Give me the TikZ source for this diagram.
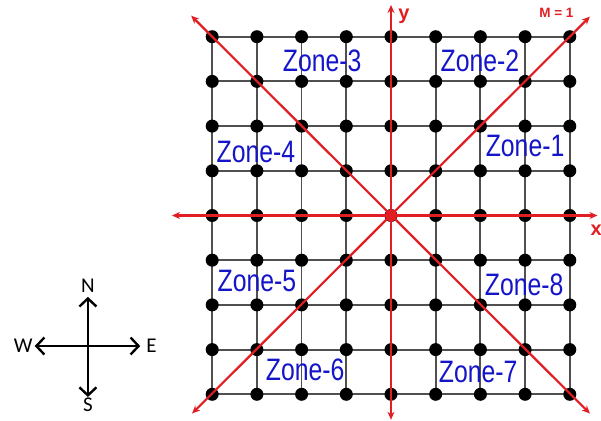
\documentclass[tikz,border=0pt]{standalone}
\usepackage{fontspec}
\newfontfamily\zonefont{Liberation Sans}
\newfontfamily\compassfont{Carlito}
\usetikzlibrary{arrows.meta,positioning}
\definecolor{axisred}{RGB}{225,30,35}
\definecolor{zoneblue}{RGB}{20,20,200}
\definecolor{gridgray}{RGB}{80,80,80}

\begin{document}
\begin{tikzpicture}[x=44.7pt, y=44.7pt,
    dot/.style={circle, fill=black, minimum size=13pt, inner sep=0pt},
    origin/.style={circle, fill=axisred, minimum size=12pt, inner sep=0pt},
    gridline/.style={gridgray, line width=1.8pt},
    axis/.style={axisred, line width=2.2pt, {Stealth[length=8pt,width=7pt]}-{Stealth[length=8pt,width=7pt]}},
    axislabel/.style={text=axisred, font=\zonefont\bfseries\fontsize{20}{20}\selectfont, inner sep=0pt},
    zone/.style={text=zoneblue, font=\zonefont\fontsize{31}{31}\selectfont, xscale=0.8, inner sep=0pt},
    compass/.style={line width=2.6pt, {Straight Barb[length=8pt,width=17pt,line width=2.4pt]}-{Straight Barb[length=8pt,width=17pt,line width=2.4pt]}},
    dirlabel/.style={font=\compassfont\fontsize{21}{21}\selectfont, inner sep=1pt}]
  \useasboundingbox (-8.747,-4.597) rectangle (4.698,4.821);
  % grid points and lines
  \foreach \i in {0,...,8}
    \foreach \j in {0,...,8}
      \coordinate (g\i\j) at (\i-4,\j-4);
  \foreach \k in {0,...,8} {
    \draw[gridline] (g0\k) -- (g8\k);
    \draw[gridline] (g\k0) -- (g\k8);
  }
  \foreach \i in {0,...,8}
    \foreach \j in {0,...,8}
      \node[dot] (d\i\j) at (g\i\j) {};
  % axes and diagonals
  \coordinate (xw) at (-4.9,0);    \coordinate (xe) at (4.62,0);
  \coordinate (ys) at (0,-4.57);   \coordinate (yn) at (0,4.71);
  \coordinate (nw) at (-4.47,4.47); \coordinate (se) at (4.45,-4.43);
  \coordinate (sw) at (-4.45,-4.43); \coordinate (ne) at (4.45,4.45);
  \draw[axis] (xw) -- (xe);
  \draw[axis] (ys) -- (yn);
  \draw[axis] (nw) -- (se);
  \draw[axis] (sw) -- (ne);
  \node[origin] (o) at (0,0) {};
  \node[axislabel] (ylab) at (0.29,4.45) {y};
  \node[axislabel] (xlab) at (4.59,-0.32) {x};
  \node[axislabel, font=\zonefont\bfseries\fontsize{13.5}{13.5}\selectfont] (mlab) at (3.70,4.53) {M = 1};
  % zones
  \node[zone] (z1) at (3.00,1.55) {Zone-1};
  \node[zone] (z2) at (1.99,3.45) {Zone-2};
  \node[zone] (z3) at (-1.54,3.45) {Zone-3};
  \node[zone] (z4) at (-3.02,1.42) {Zone-4};
  \node[zone] (z5) at (-3.00,-1.47) {Zone-5};
  \node[zone] (z6) at (-1.92,-3.46) {Zone-6};
  \node[zone] (z7) at (1.95,-3.50) {Zone-7};
  \node[zone] (z8) at (2.98,-1.55) {Zone-8};
  % compass
  \coordinate (cn) at (-6.78,-1.82); \coordinate (cs) at (-6.78,-4.06);
  \coordinate (cw) at (-7.97,-2.92); \coordinate (ce) at (-5.61,-2.92);
  \draw[compass] (cw) -- (ce);
  \draw[compass] (cs) -- (cn);
  \node[dirlabel, above=3pt of cn] (n) {N};
  \node[dirlabel, below=0pt of cs] (s) {S};
  \node[dirlabel, left=1pt of cw] (w) {W};
  \node[dirlabel, right=5pt of ce] (e) {E};
\end{tikzpicture}
\end{document}
